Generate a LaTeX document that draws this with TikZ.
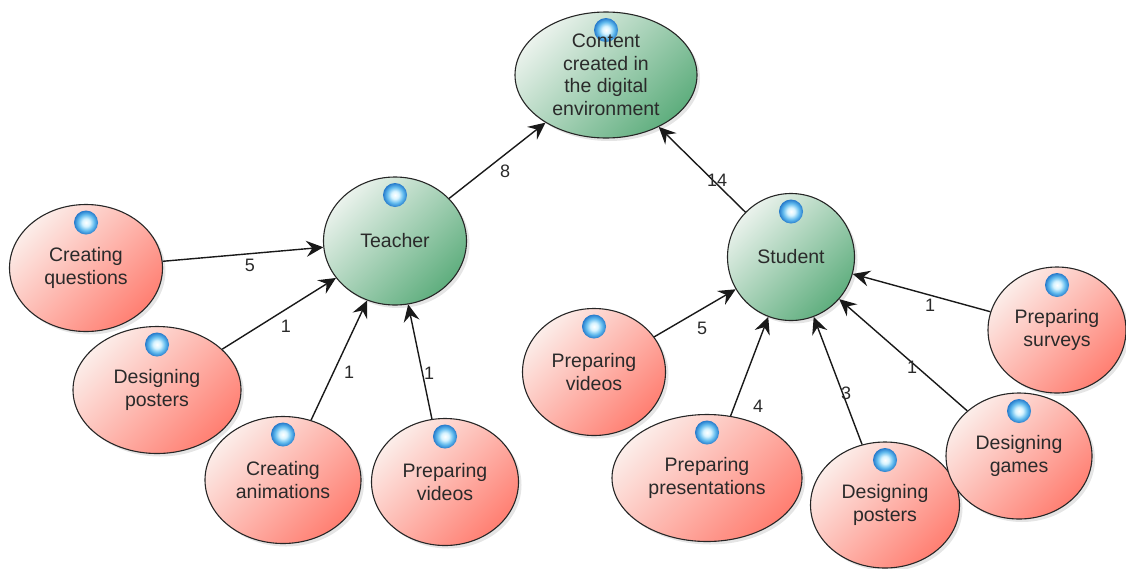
\documentclass[tikz,border=0pt]{standalone}
\usepackage{fontspec}
\setmainfont{Liberation Sans}
\usetikzlibrary{shapes.geometric,arrows.meta,shadows}
\definecolor{inkc}{HTML}{2A2A2A}
\definecolor{rosea}{HTML}{FCEDE9}
\definecolor{roseb}{HTML}{FF7F72}
\definecolor{minta}{HTML}{EAF2EC}
\definecolor{mintb}{HTML}{5FAE7E}
\definecolor{ballc}{HTML}{D8F4FF}
\definecolor{ballm}{HTML}{62BBEE}
\definecolor{balld}{HTML}{1F74C8}
\pgfdeclareradialshading{glassball}{\pgfpoint{0bp}{0bp}}{
  color(0bp)=(white);
  color(8bp)=(ballc);
  color(17bp)=(ballm);
  color(26bp)=(balld);
  color(50bp)=(balld)}
\tikzset{
  bubble/.style={ellipse,draw=black!85,line width=1.1pt,inner sep=0pt,align=center,text=inkc,
    font=\fontsize{19.5}{22.5}\selectfont,
    drop shadow={shadow xshift=3pt,shadow yshift=-3pt,opacity=0.1,fill=black},
    path picture={\node[ballmark] at ([yshift=-18pt]path picture bounding box.north) {};}},
  ballmark/.style={circle,minimum size=24pt,inner sep=0pt,draw=none,shading=glassball},
  pink/.style={bubble,top color=rosea,bottom color=roseb,shading angle=45},
  mint/.style={bubble,top color=minta,bottom color=mintb,shading angle=45},
  linkarrow/.style={-{Stealth[length=17pt,width=16pt,inset=6pt]},line width=1.4pt,draw=black!90},
  weight/.style={font=\fontsize{18}{20}\selectfont,text=inkc,inner sep=0pt},
}
\begin{document}
\begin{tikzpicture}[x=1pt,y=-1pt]
\useasboundingbox (0,0) rectangle (1126,568);
\node[mint,minimum width=182pt,minimum height=126pt] (content) at (606,75) {Content\\created in\\the digital\\environment};
\node[mint,minimum width=143pt,minimum height=128pt] (teacher) at (395,241) {Teacher};
\node[mint,minimum width=127pt,minimum height=127pt] (student) at (791,257) {Student};
\node[pink,minimum width=153pt,minimum height=127pt] (cq) at (86,268) {Creating\\questions};
\node[pink,minimum width=168pt,minimum height=127pt] (dp) at (157,390) {Designing\\posters};
\node[pink,minimum width=156pt,minimum height=127pt] (ca) at (283,480) {Creating\\animations};
\node[pink,minimum width=147pt,minimum height=127pt] (pvl) at (445,482) {Preparing\\videos};
\node[pink,minimum width=143pt,minimum height=127pt] (pvr) at (594,372) {Preparing\\videos};
\node[pink,minimum width=190pt,minimum height=127pt] (pp) at (707,478) {Preparing\\presentations};
\node[pink,minimum width=149pt,minimum height=126pt] (dpr) at (885,505) {Designing\\posters};
\node[pink,minimum width=146pt,minimum height=126pt] (dg) at (1019,456) {Designing\\games};
\node[pink,minimum width=138pt,minimum height=126pt] (ps) at (1057,330) {Preparing\\surveys};

\draw[linkarrow] (teacher) -- (content);
\draw[linkarrow] (student) -- (content);
\draw[linkarrow] (cq) -- (teacher);
\draw[linkarrow] (dp) -- (teacher);
\draw[linkarrow] (ca) -- (teacher);
\draw[linkarrow] (pvl) -- (teacher);
\draw[linkarrow] (pvr) -- (student);
\draw[linkarrow] (pp) -- (student);
\draw[linkarrow] (dpr) -- (student);
\draw[linkarrow] (dg) -- (student);
\draw[linkarrow] (ps) -- (student);

\node[weight] (w1) at (505,171) {8};
\node[weight] (w2) at (717,180) {14};
\node[weight] (w3) at (250,265) {5};
\node[weight] (w4) at (286,326) {1};
\node[weight] (w5) at (349,372) {1};
\node[weight] (w6) at (429,373) {1};
\node[weight] (w7) at (702,328) {5};
\node[weight] (w8) at (758,406) {4};
\node[weight] (w9) at (846,393) {3};
\node[weight] (w10) at (912,367) {1};
\node[weight] (w11) at (930,305) {1};
\end{tikzpicture}
\end{document}
